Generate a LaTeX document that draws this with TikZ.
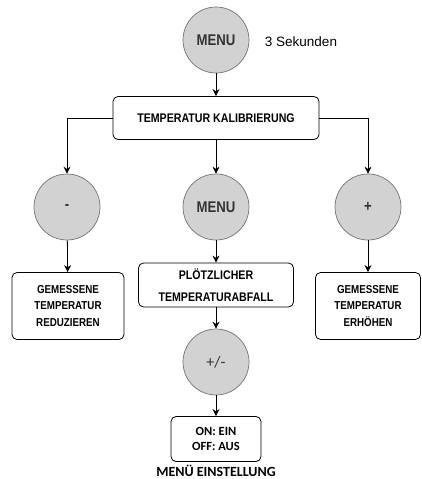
\documentclass[tikz,border=0pt]{standalone}
\usepackage{fontspec}
\usetikzlibrary{arrows.meta}
\setmainfont{Liberation Sans}
\newfontfamily\schmal[FakeStretch=0.85]{Liberation Sans}
\newfontfamily\calib{Carlito}
\begin{document}
\begin{tikzpicture}[x=1pt,y=-1pt]

% definitions
\tikzstyle{taste} = [circle, minimum size=66pt, inner sep=0pt, text centered, draw=black!55, fill=gray!35, line width=0.7pt, text=black!80, font=\schmal\fontsize{15.5}{18}\selectfont\bfseries]

\tikzstyle{schritt} = [rectangle, rounded corners=5pt, text centered, draw=black, fill=white, line width=0.8pt, inner sep=0pt, align=center]

\tikzstyle{arrow} = [->,>={Stealth[length=7pt,width=7pt]}, line width=0.8pt]

\useasboundingbox (0,0) rectangle (421,479);

% the graph
\node (menu0) [taste] at (216,40) {MENU};
\node (zeit) at (301,42) {\fontsize{13.5}{16}\selectfont 3 Sekunden};

\node (kal) [schritt, minimum width=206pt, minimum height=43pt, font=\schmal\fontsize{12.5}{15}\selectfont\bfseries] at (216,118) {TEMPERATUR KALIBRIERUNG};

\node (minus) [taste] at (67,207) {-};
\node (menu1) [taste] at (216,207) {MENU};
\node (plus) [taste] at (368,207) {+};

\node (red) [schritt, minimum width=112pt, minimum height=67pt, font=\schmal\fontsize{11.5}{16.7}\selectfont\bfseries] at (68,306) {GEMESSENE\\TEMPERATUR\\REDUZIEREN};

\node (abfall) [schritt, minimum width=155pt, minimum height=44pt, font=\schmal\fontsize{12.5}{21.7}\selectfont\bfseries] at (216,285) {PLÖTZLICHER\\TEMPERATURABFALL};

\node (erh) [schritt, minimum width=105pt, minimum height=67pt, font=\schmal\fontsize{11.5}{16.7}\selectfont\bfseries] at (368,306) {GEMESSENE\\TEMPERATUR\\ERHÖHEN};

\node (pm) [taste, font=\calib\fontsize{16}{18}\selectfont] at (216,362) {+/-};

\node (onoff) [schritt, minimum width=90pt, minimum height=45pt, font=\calib\fontsize{12.5}{15.7}\selectfont\bfseries] at (216,439) {ON: EIN\\OFF: AUS};

\node (titel) [anchor=base, inner sep=0pt] at (216,476.5) {\calib\fontsize{14}{16}\selectfont\bfseries MENÜ EINSTELLUNG};


\draw [arrow] (menu0) -- (kal);
\draw [arrow] (kal.west) -| (minus);
\draw [arrow] (kal) -- (menu1);
\draw [arrow] (kal.east) -| (plus);
\draw [arrow] (minus) -- (red);
\draw [arrow] (menu1) -- (abfall);
\draw [arrow] (plus) -- (erh);
\draw [arrow] (abfall) -- (pm);
\draw [arrow] (pm) -- (onoff);

\end{tikzpicture}
\end{document}
